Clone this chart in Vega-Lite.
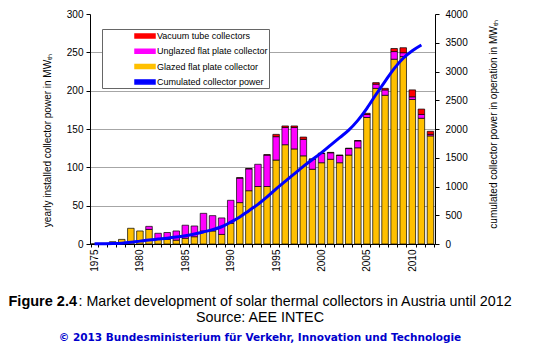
{
  "$schema": "https://vega.github.io/schema/vega-lite/v6.json",
  "width": 345,
  "height": 230,
  "autosize": {"type": "none"},
  "padding": {"left": 90, "top": 14, "right": 114, "bottom": 106},
  "background": "white",
  "config": {
    "view": {"stroke": null},
    "font": "Liberation Sans",
    "axis": {"labelFont": "Liberation Sans", "titleFont": "Liberation Sans", "labelColor": "#000", "titleColor": "#000", "domainColor": "#000", "tickColor": "#000", "labelFontSize": 10, "titleFontSize": 10, "titleFontWeight": "normal"}
  },
  "datasets": {
    "yearly": [
      {"year": 1975, "type": "Glazed flat plate collector", "value": 0.3},
      {"year": 1976, "type": "Glazed flat plate collector", "value": 0.8},
      {"year": 1977, "type": "Glazed flat plate collector", "value": 3},
      {"year": 1978, "type": "Glazed flat plate collector", "value": 6},
      {"year": 1979, "type": "Glazed flat plate collector", "value": 20.5},
      {"year": 1980, "type": "Glazed flat plate collector", "value": 17},
      {"year": 1981, "type": "Glazed flat plate collector", "value": 19},
      {"year": 1981, "type": "Unglazed flat plate collector", "value": 4},
      {"year": 1982, "type": "Glazed flat plate collector", "value": 7},
      {"year": 1982, "type": "Unglazed flat plate collector", "value": 7},
      {"year": 1983, "type": "Glazed flat plate collector", "value": 6},
      {"year": 1983, "type": "Unglazed flat plate collector", "value": 9},
      {"year": 1984, "type": "Glazed flat plate collector", "value": 5},
      {"year": 1984, "type": "Unglazed flat plate collector", "value": 12},
      {"year": 1985, "type": "Glazed flat plate collector", "value": 7.5},
      {"year": 1985, "type": "Unglazed flat plate collector", "value": 17},
      {"year": 1986, "type": "Glazed flat plate collector", "value": 9.5},
      {"year": 1986, "type": "Unglazed flat plate collector", "value": 14},
      {"year": 1987, "type": "Glazed flat plate collector", "value": 17},
      {"year": 1987, "type": "Unglazed flat plate collector", "value": 23},
      {"year": 1988, "type": "Glazed flat plate collector", "value": 17},
      {"year": 1988, "type": "Unglazed flat plate collector", "value": 20},
      {"year": 1989, "type": "Glazed flat plate collector", "value": 12.5},
      {"year": 1989, "type": "Unglazed flat plate collector", "value": 21.5},
      {"year": 1990, "type": "Glazed flat plate collector", "value": 27},
      {"year": 1990, "type": "Unglazed flat plate collector", "value": 30},
      {"year": 1991, "type": "Glazed flat plate collector", "value": 54},
      {"year": 1991, "type": "Unglazed flat plate collector", "value": 32},
      {"year": 1991, "type": "Vacuum tube collectors", "value": 0.5},
      {"year": 1992, "type": "Glazed flat plate collector", "value": 69.5},
      {"year": 1992, "type": "Unglazed flat plate collector", "value": 28.5},
      {"year": 1992, "type": "Vacuum tube collectors", "value": 0.5},
      {"year": 1993, "type": "Glazed flat plate collector", "value": 75},
      {"year": 1993, "type": "Unglazed flat plate collector", "value": 29},
      {"year": 1994, "type": "Glazed flat plate collector", "value": 75},
      {"year": 1994, "type": "Unglazed flat plate collector", "value": 41},
      {"year": 1994, "type": "Vacuum tube collectors", "value": 0.5},
      {"year": 1995, "type": "Glazed flat plate collector", "value": 109.5},
      {"year": 1995, "type": "Unglazed flat plate collector", "value": 30.5},
      {"year": 1995, "type": "Vacuum tube collectors", "value": 3},
      {"year": 1996, "type": "Glazed flat plate collector", "value": 129.5},
      {"year": 1996, "type": "Unglazed flat plate collector", "value": 22.5},
      {"year": 1996, "type": "Vacuum tube collectors", "value": 2},
      {"year": 1997, "type": "Glazed flat plate collector", "value": 124},
      {"year": 1997, "type": "Unglazed flat plate collector", "value": 28},
      {"year": 1997, "type": "Vacuum tube collectors", "value": 2},
      {"year": 1998, "type": "Glazed flat plate collector", "value": 115},
      {"year": 1998, "type": "Unglazed flat plate collector", "value": 21.5},
      {"year": 1998, "type": "Vacuum tube collectors", "value": 3},
      {"year": 1999, "type": "Glazed flat plate collector", "value": 97.5},
      {"year": 1999, "type": "Unglazed flat plate collector", "value": 13},
      {"year": 1999, "type": "Vacuum tube collectors", "value": 0.5},
      {"year": 2000, "type": "Glazed flat plate collector", "value": 106},
      {"year": 2000, "type": "Unglazed flat plate collector", "value": 12},
      {"year": 2000, "type": "Vacuum tube collectors", "value": 0.5},
      {"year": 2001, "type": "Glazed flat plate collector", "value": 110.5},
      {"year": 2001, "type": "Unglazed flat plate collector", "value": 8.5},
      {"year": 2001, "type": "Vacuum tube collectors", "value": 0.5},
      {"year": 2002, "type": "Glazed flat plate collector", "value": 106},
      {"year": 2002, "type": "Unglazed flat plate collector", "value": 9.5},
      {"year": 2002, "type": "Vacuum tube collectors", "value": 0.5},
      {"year": 2003, "type": "Glazed flat plate collector", "value": 116},
      {"year": 2003, "type": "Unglazed flat plate collector", "value": 8.5},
      {"year": 2003, "type": "Vacuum tube collectors", "value": 0.5},
      {"year": 2004, "type": "Glazed flat plate collector", "value": 125.5},
      {"year": 2004, "type": "Unglazed flat plate collector", "value": 9},
      {"year": 2004, "type": "Vacuum tube collectors", "value": 0.5},
      {"year": 2005, "type": "Glazed flat plate collector", "value": 165},
      {"year": 2005, "type": "Unglazed flat plate collector", "value": 4},
      {"year": 2005, "type": "Vacuum tube collectors", "value": 1.5},
      {"year": 2006, "type": "Glazed flat plate collector", "value": 203},
      {"year": 2006, "type": "Unglazed flat plate collector", "value": 5.5},
      {"year": 2006, "type": "Vacuum tube collectors", "value": 2},
      {"year": 2007, "type": "Glazed flat plate collector", "value": 194},
      {"year": 2007, "type": "Unglazed flat plate collector", "value": 7},
      {"year": 2007, "type": "Vacuum tube collectors", "value": 2},
      {"year": 2008, "type": "Glazed flat plate collector", "value": 241},
      {"year": 2008, "type": "Unglazed flat plate collector", "value": 10},
      {"year": 2008, "type": "Vacuum tube collectors", "value": 4},
      {"year": 2009, "type": "Glazed flat plate collector", "value": 244.5},
      {"year": 2009, "type": "Unglazed flat plate collector", "value": 5},
      {"year": 2009, "type": "Vacuum tube collectors", "value": 6.5},
      {"year": 2010, "type": "Glazed flat plate collector", "value": 188.5},
      {"year": 2010, "type": "Unglazed flat plate collector", "value": 3.5},
      {"year": 2010, "type": "Vacuum tube collectors", "value": 9},
      {"year": 2011, "type": "Glazed flat plate collector", "value": 164},
      {"year": 2011, "type": "Unglazed flat plate collector", "value": 5},
      {"year": 2011, "type": "Vacuum tube collectors", "value": 7},
      {"year": 2012, "type": "Glazed flat plate collector", "value": 141},
      {"year": 2012, "type": "Unglazed flat plate collector", "value": 2},
      {"year": 2012, "type": "Vacuum tube collectors", "value": 4}
    ],
    "cum": [
      {"year": 1975, "value": 3}, {"year": 1976, "value": 5}, {"year": 1977, "value": 8},
      {"year": 1978, "value": 15}, {"year": 1979, "value": 30}, {"year": 1980, "value": 50},
      {"year": 1981, "value": 70}, {"year": 1982, "value": 85}, {"year": 1983, "value": 100},
      {"year": 1984, "value": 120}, {"year": 1985, "value": 145}, {"year": 1986, "value": 175},
      {"year": 1987, "value": 210}, {"year": 1988, "value": 250}, {"year": 1989, "value": 300},
      {"year": 1990, "value": 380}, {"year": 1991, "value": 470}, {"year": 1992, "value": 580},
      {"year": 1993, "value": 690}, {"year": 1994, "value": 820}, {"year": 1995, "value": 960},
      {"year": 1996, "value": 1090}, {"year": 1997, "value": 1220}, {"year": 1998, "value": 1350},
      {"year": 1999, "value": 1470}, {"year": 2000, "value": 1590}, {"year": 2001, "value": 1720},
      {"year": 2002, "value": 1850}, {"year": 2003, "value": 1980}, {"year": 2004, "value": 2150},
      {"year": 2005, "value": 2360}, {"year": 2006, "value": 2600}, {"year": 2007, "value": 2830},
      {"year": 2008, "value": 3050}, {"year": 2009, "value": 3230}, {"year": 2010, "value": 3360},
      {"year": 2011, "value": 3460}
    ]
  },
  "title": {
    "text": "Source: AEE INTEC",
    "orient": "bottom",
    "anchor": "middle",
    "frame": "group",
    "font": "Liberation Sans",
    "fontSize": 14.3,
    "fontWeight": "normal",
    "color": "#000",
    "offset": 3,
    "dx": -2.5,
    "subtitle": "\u00a9 2013 Bundesministerium f\u00fcr Verkehr, Innovation und Technologie",
    "subtitleFont": "DejaVu Sans",
    "subtitleFontSize": 10.5,
    "subtitleFontWeight": "bold",
    "subtitleColor": "#0000CC",
    "subtitlePadding": 7
  },
  "layer": [
    {
      "data": {"name": "yearly"},
      "mark": {"type": "bar", "stroke": "#000", "strokeWidth": 0.7},
      "encoding": {
        "x": {
          "field": "year", "type": "ordinal",
          "scale": {"paddingInner": 0.28, "paddingOuter": 0.14},
          "axis": {
            "labelAngle": -90,
            "labelExpr": "datum.value % 5 == 0 ? datum.value : ''",
            "tickBand": "extent",
            "tickSize": 3,
            "labelPadding": 2,
            "title": ": Market development of solar thermal collectors in Austria until 2012",
            "titleFontSize": 14.3,
            "titleFontWeight": "normal",
            "titleAlign": "left",
            "titleAnchor": "start",
            "titleBaseline": "alphabetic",
            "titleX": -12,
            "titleY": 61
          }
        },
        "y": {
          "field": "value", "type": "quantitative", "stack": "zero",
          "scale": {"domain": [0, 300]},
          "axis": {
            "orient": "left",
            "values": [0, 50, 100, 150, 200, 250, 300],
            "grid": true,
            "gridColor": "#A6A6A6",
            "gridOpacity": {"condition": {"test": "datum.value == 300", "value": 0}, "value": 1},
            "tickSize": 4,
            "labelPadding": 3,
            "title": "yearly installed collector power in MW\u209c\u2095",
            "titleAngle": -90,
            "titleAlign": "center",
            "titleBaseline": "middle",
            "titleX": -43,
            "titleY": 126
          }
        },
        "color": {
          "field": "type", "type": "nominal",
          "scale": {
            "domain": ["Vacuum tube collectors", "Unglazed flat plate collector", "Glazed flat plate collector", "Cumulated collector power"],
            "range": ["#FF0000", "#FF00FF", "#FFC000", "#0000FF"]
          },
          "legend": {
            "title": null,
            "orient": "none",
            "legendX": 12,
            "legendY": 15,
            "padding": 1,
            "fillColor": "white",
            "strokeColor": "#666",
            "symbolType": "M-2,-0.4H2V0.4H-2Z",
            "symbolOffset": 36,
            "symbolSize": 100,
            "labelOffset": 6,
            "labelFont": "Liberation Sans",
            "labelFontSize": 9,
            "labelColor": "#000",
            "rowPadding": 4.3,
            "labelExpr": "datum.label + '\u00a0\u00a0\u00a0\u00a0\u00a0\u00a0\u00a0\u00a0\u00a0\u00a0\u00a0\u00a0'"
          }
        },
        "order": {"field": "type", "sort": "ascending"}
      }
    },
    {
      "data": {"name": "cum"},
      "mark": {"type": "line", "strokeWidth": 3, "interpolate": "monotone"},
      "encoding": {
        "x": {
          "field": "year", "type": "ordinal",
          "axis": {
            "orient": "top",
            "labels": false,
            "ticks": false,
            "domain": false,
            "grid": false,
            "title": "Figure 2.4",
            "titleFontSize": 14.5,
            "titleFontWeight": "bold",
            "titleAlign": "left",
            "titleAnchor": "start",
            "titleBaseline": "alphabetic",
            "titleX": -82,
            "titleY": 291
          }
        },
        "y": {
          "field": "value", "type": "quantitative",
          "scale": {"domain": [0, 4000]},
          "axis": {
            "orient": "right",
            "format": "d",
            "values": [0, 500, 1000, 1500, 2000, 2500, 3000, 3500, 4000],
            "grid": false,
            "tickSize": 4,
            "labelPadding": 6,
            "title": "cumulated collector power in operation in MW\u209c\u2095",
            "titleAngle": -90,
            "titleAlign": "center",
            "titleBaseline": "middle",
            "titleX": 58,
            "titleY": 110
          }
        },
        "color": {"datum": "Cumulated collector power"}
      }
    }
  ],
  "resolve": {"scale": {"y": "independent"}, "axis": {"x": "independent"}}
}
